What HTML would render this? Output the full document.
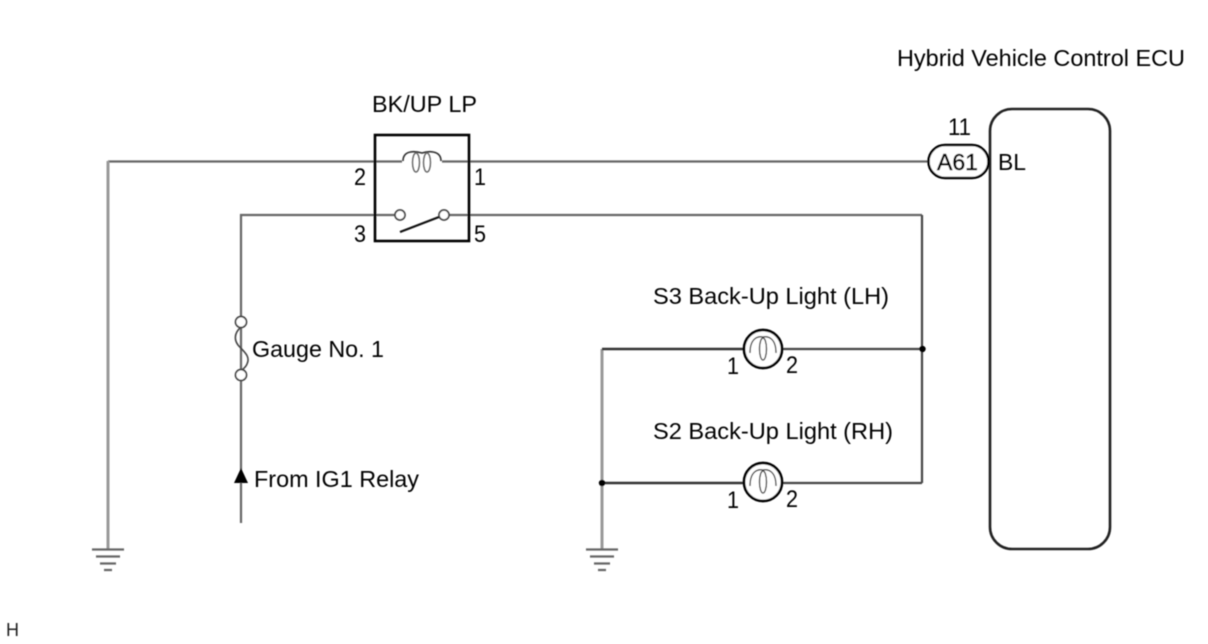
<!DOCTYPE html>
<html><head><meta charset="utf-8"><style>
html,body{margin:0;padding:0;background:#fff}
svg{display:block}
text{font-family:"Liberation Sans",sans-serif;font-size:23px;fill:#000}
text.d{font-size:24px}
</style></head><body>
<svg width="1208" height="644" viewBox="0 0 1208 644" xmlns="http://www.w3.org/2000/svg">
<defs><filter id="b" x="0" y="0" width="100%" height="100%"><feGaussianBlur stdDeviation="0.4"/></filter></defs>
<g filter="url(#b)">
<g fill="none" stroke="#666" stroke-width="2.2">
<path d="M108 161.5H402"/>
<path d="M442 161.5H928"/>
<path d="M395 215H241V523"/>
<path d="M449 215H922"/>
</g>
<path d="M602 349V549M108 161V549" stroke="#999" stroke-width="3" fill="none"/>
<path d="M743 349H602M743 483H602" stroke="#333" stroke-width="2.4" fill="none"/>
<path d="M922 215V483M782 349H922M782 483H922" stroke="#444" stroke-width="2.2" fill="none"/>
<rect x="375" y="135" width="94" height="106" fill="none" stroke="#000" stroke-width="2.6"/>
<path d="M403 161C403 150 415 151 422 153C428 151 441 150 441 161" fill="none" stroke="#333" stroke-width="1.6"/>
<ellipse cx="416" cy="162.5" rx="3.5" ry="9.5" fill="none" stroke="#666" stroke-width="1.4"/>
<ellipse cx="427" cy="162.5" rx="3.5" ry="9.5" fill="none" stroke="#666" stroke-width="1.4"/>
<circle cx="400" cy="215" r="5" fill="#fff" stroke="#444" stroke-width="1.7"/>
<circle cx="444" cy="215" r="5" fill="#fff" stroke="#444" stroke-width="1.7"/>
<path d="M400 232L439 217" stroke="#111" stroke-width="2.2" fill="none"/>
<path d="M241 327C233 334 235 341 238 345C243 351 251 356 247 364C246 367 243 369 241 371" fill="none" stroke="#444" stroke-width="1.6"/>
<circle cx="241" cy="322" r="5.5" fill="#fff" stroke="#444" stroke-width="1.7"/>
<circle cx="241" cy="375" r="5.5" fill="#fff" stroke="#444" stroke-width="1.7"/>
<path d="M241 468L248 483H234Z" fill="#000"/>
<g fill="#fff" stroke="#000" stroke-width="2.7">
<circle cx="763" cy="349" r="19"/>
<circle cx="763" cy="482" r="19"/>
</g>
<g fill="none" stroke="#444" stroke-width="1.4">
<path d="M750 353C750 338 758 336 763 337C768 336 776 338 776 353"/>
<ellipse cx="763" cy="349" rx="3.5" ry="11"/>
<path d="M750 486C750 471 758 469 763 470C768 469 776 471 776 486"/>
<ellipse cx="763" cy="482" rx="3.5" ry="11"/>
</g>
<circle cx="922.5" cy="349" r="3.2" fill="#000"/>
<circle cx="602" cy="483" r="3.2" fill="#000"/>
<g stroke="#666" stroke-width="2.2" fill="none">
<path d="M92 549.5H124M96 556.5H120M100 563.5H116M104 570H112"/>
<path d="M586 549.5H618M590 556.5H614M594 563.5H610M598 570H606"/>
</g>
<rect x="990" y="109" width="120" height="440" rx="22" fill="none" stroke="#222" stroke-width="2.6"/>
<rect x="928.5" y="145" width="60" height="33" rx="16.5" fill="#fff" stroke="#000" stroke-width="2.5"/>
<text x="897" y="66" textLength="288" lengthAdjust="spacingAndGlyphs">Hybrid Vehicle Control ECU</text>
<text x="372" y="112" textLength="105" lengthAdjust="spacingAndGlyphs">BK/UP LP</text>
<text x="948" y="135" textLength="23" lengthAdjust="spacingAndGlyphs" class="d">11</text>
<text x="937" y="170" textLength="41" lengthAdjust="spacingAndGlyphs" stroke="#000" stroke-width="0.5">A61</text>
<text x="998" y="170" textLength="28" lengthAdjust="spacingAndGlyphs">BL</text>
<text x="354" y="185" class="d" textLength="12" lengthAdjust="spacingAndGlyphs">2</text>
<text x="474" y="185" class="d" textLength="12" lengthAdjust="spacingAndGlyphs">1</text>
<text x="354" y="242" class="d" textLength="12" lengthAdjust="spacingAndGlyphs">3</text>
<text x="474" y="242" class="d" textLength="12" lengthAdjust="spacingAndGlyphs">5</text>
<text x="252" y="357" textLength="132" lengthAdjust="spacingAndGlyphs">Gauge No. 1</text>
<text x="254" y="487" textLength="165" lengthAdjust="spacingAndGlyphs">From IG1 Relay</text>
<text x="653" y="304" textLength="236" lengthAdjust="spacingAndGlyphs">S3 Back-Up Light (LH)</text>
<text x="653" y="439" textLength="240" lengthAdjust="spacingAndGlyphs">S2 Back-Up Light (RH)</text>
<text x="727" y="374" class="d" textLength="12" lengthAdjust="spacingAndGlyphs">1</text>
<text x="786" y="373" class="d" textLength="12" lengthAdjust="spacingAndGlyphs">2</text>
<text x="727" y="508" class="d" textLength="12" lengthAdjust="spacingAndGlyphs">1</text>
<text x="786" y="507" class="d" textLength="12" lengthAdjust="spacingAndGlyphs">2</text>
<text x="6" y="636" style="font-size:18px;fill:#222">H</text>
</g>
</svg>
</body></html>
